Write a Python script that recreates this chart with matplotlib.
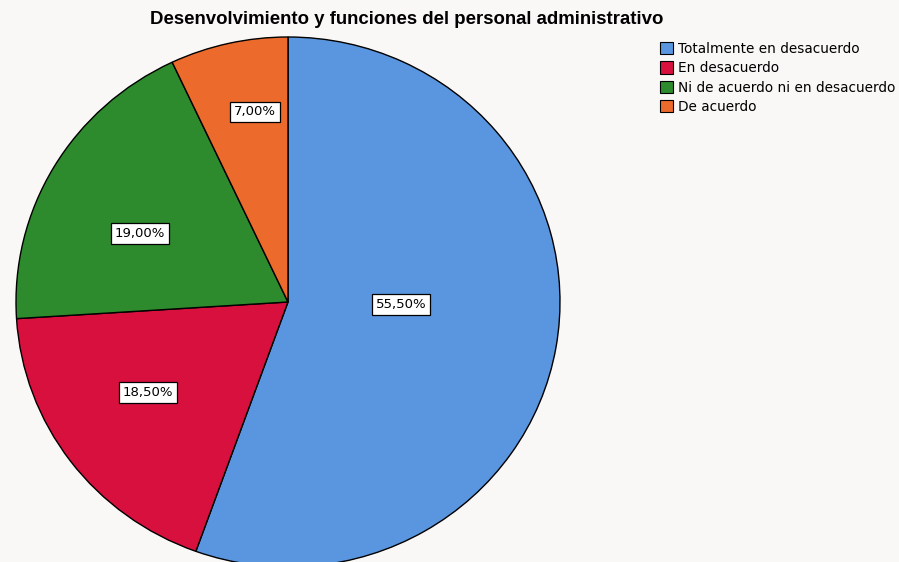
import matplotlib
matplotlib.use("Agg")
import matplotlib.pyplot as plt
import numpy as np

categories = ["Totalmente en desacuerdo", "En desacuerdo",
              "Ni de acuerdo ni en desacuerdo", "De acuerdo"]
values = [55.5, 18.5, 19.0, 7.0]
pct_labels = ["55,50%", "18,50%", "19,00%", "7,00%"]
colors = ["#5A96DF", "#D8103E", "#2D8A2D", "#EC6A2C"]
# label anchor positions inside the pie (axes data units, radius = 1)
label_pos = [(0.415, -0.011), (-0.515, -0.343), (-0.544, 0.260), (-0.121, 0.717)]

plt.rcParams['font.family'] = ['DejaVu Sans']
bg = "#F9F8F6"
fig = plt.figure(figsize=(8.99, 5.62), dpi=100, facecolor=bg)

W, H = 899, 562
cx, cy, rx, ry = 288, 302, 272, 265
ax = fig.add_axes([(cx - rx) / W, (H - cy - ry) / H, 2 * rx / W, 2 * ry / H])
ax.set_facecolor(bg)
wedges, _ = ax.pie(values, colors=colors, startangle=90, counterclock=False,
                   wedgeprops=dict(edgecolor="black", linewidth=1.0))
ax.set_aspect('auto')
ax.set_xlim(-1, 1)
ax.set_ylim(-1, 1)
ax.axis('off')

for (x, y), t in zip(label_pos, pct_labels):
    ax.text(x, y, t, ha='center', va='center', fontsize=9.5,
            bbox=dict(boxstyle='square,pad=0.3', facecolor='white',
                      edgecolor='black', linewidth=0.9))

fig.text(407 / W, 1 - 20 / H, "Desenvolvimiento y funciones del personal administrativo",
         ha='center', va='center', fontsize=13.4, fontweight='bold',
         family='Liberation Sans')

leg = fig.legend(wedges, categories, loc='upper left',
                 bbox_to_anchor=(657 / W, 1 - 39 / H), frameon=False,
                 fontsize=9.8, handlelength=1.0, handleheight=1.0,
                 handletextpad=0.35, labelspacing=0.4, borderaxespad=0,
                 borderpad=0.2)
for h in leg.legend_handles:
    h.set_edgecolor('black')
    h.set_linewidth(0.8)

fig.savefig("out.png", dpi=100, facecolor=bg)
